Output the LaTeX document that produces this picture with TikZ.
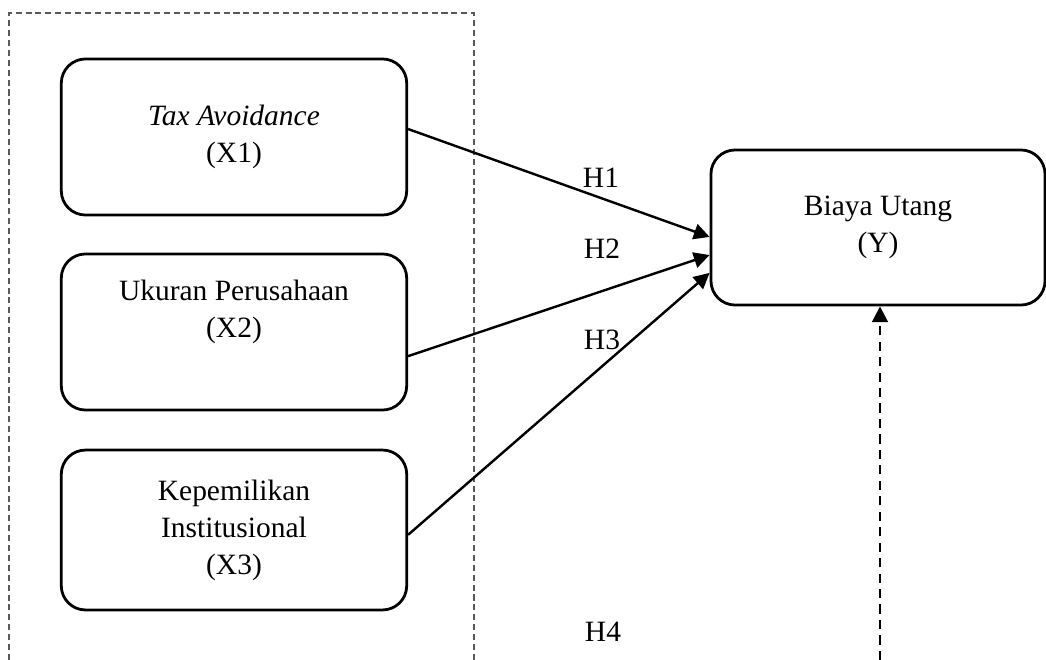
\documentclass[tikz,border=0pt]{standalone}
\usepackage{fontspec}
\setmainfont{Liberation Serif}
\usetikzlibrary{arrows.meta}

\tikzset{
  kotak/.style={draw, line width=1.15pt, rounded corners=10pt, minimum width=143pt, minimum height=64.6pt, align=center, inner sep=0pt},
  panah/.style={-{Triangle[length=6.5pt,width=6.5pt]}, line width=1pt},
}

\begin{document}
\begin{tikzpicture}[x=0.414pt, y=-0.414pt, font=\fontsize{12.2}{15.3}\selectfont]
\useasboundingbox (0,0) rectangle (1046,660);

% bingkai variabel independen
\draw[black!65, line width=0.6pt, dash pattern=on 2.5pt off 1.6pt] (9,660) -- (9,13) -- (474,13) -- (474,660);

\node[kotak] (x1) at (234,137) {\textit{Tax Avoidance}\\(X1)};
\node[kotak] (x2) at (234,332) {};
\node[align=center] (x2teks) at (234,312) {Ukuran Perusahaan\\(X2)};
\node[kotak, minimum height=66.2pt] (x3) at (234,530) {Kepemilikan\\Institusional\\(X3)};
\node[kotak, minimum width=138.3pt, minimum height=64.2pt] (y) at (878,227.5) {Biaya Utang\\(Y)};

\draw[panah] ([yshift=3.3pt]x1.east) -- ([yshift=-3.9pt]y.west);
\draw[panah] ([yshift=-10pt]x2.east) -- ([yshift=-11.4pt]y.west);
\draw[panah] ([yshift=-2pt]x3.east) -- ([yshift=-18.8pt]y.west);

\coordinate (bawah) at (880,660);
\draw[panah, line width=1.1pt, dash pattern=on 3.8pt off 2.6pt] (bawah) -- (bawah |- y.south);

\node (h1) at (601,178) {H1};
\node (h2) at (602,249) {H2};
\node (h3) at (602,340) {H3};
\node (h4) at (603,632) {H4};

\end{tikzpicture}
\end{document}
